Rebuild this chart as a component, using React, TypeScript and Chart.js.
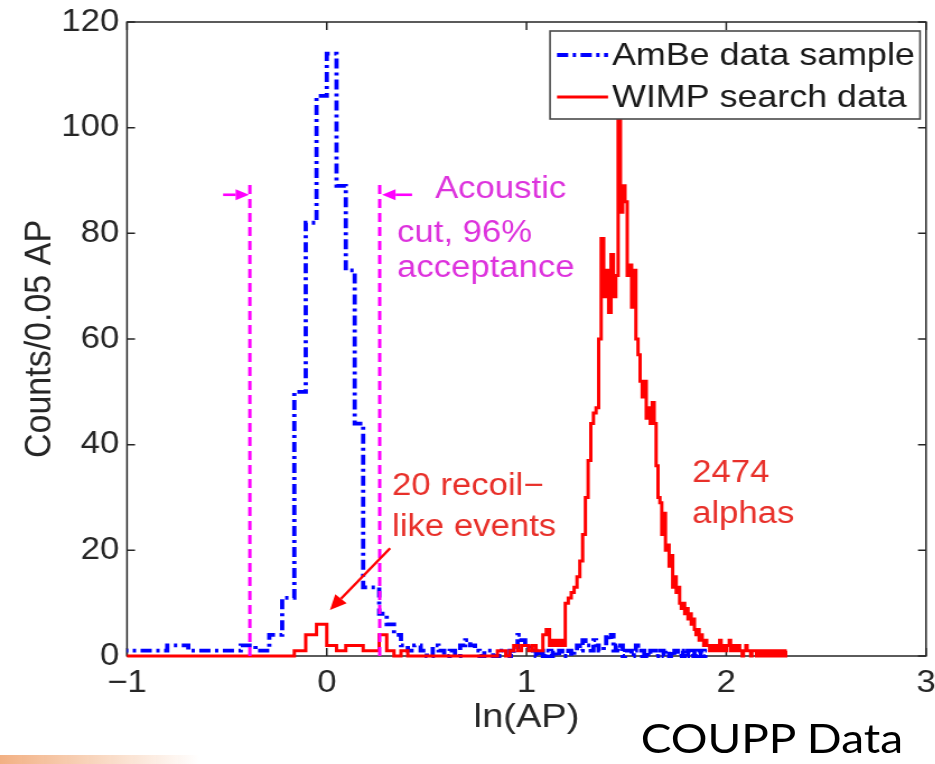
import React, { useEffect, useRef } from "react";
import { Chart, registerables } from "chart.js";

Chart.register(...registerables);

// The original figure is horizontally stretched; we draw at a narrower width and stretch with CSS.
const STRETCH = 1.12;
const CANVAS_W = 835;
const CANVAS_H = 764;
const FONT = '"Liberation Sans", Arial, Helvetica, sans-serif';

// Histograms are in AP bins of width 0.05, plotted against ln(AP)
const AP_BIN_WIDTH = 0.05;

// AmBe data sample: counts per bin, first bin starts at AP = 0.35
const ambeFirstBin = 0.35;
const ambeCounts = [
  1, 1, 2, 1, 1, 1, 2, 1, 4, 11,
  50, 82, 106, 114, 89, 73, 44, 13, 13, 8,
  6, 4, 2, 1, 2, 1, 0, 2, 1, 0,
  1, 0, 2, 3, 2, 1, 0, 1, 1, 0,
  0, 1, 1, 0, 1, 4, 3, 2, 1, 1,
  0, 1, 0, 1, 0, 1, 0, 1, 0, 0,
  1, 0, 1, 2, 1, 3, 2, 2, 1, 3,
  2, 1, 1, 2, 4, 3, 4, 1, 2, 1,
  2, 0, 1, 1, 1, 0, 1, 2, 1, 1,
  0, 1, 1, 0, 1, 1, 1, 0, 1, 1,
  1, 0, 1, 1, 0, 1, 0, 1, 1, 0,
  0, 1, 0, 1, 0, 1, 1, 0, 1, 0,
  0, 1, 0, 1, 1, 0, 1,
];

// WIMP search data: counts per bin, first bin starts at AP = 0.35
const wimpFirstBin = 0.35;
const wimpCounts = [
  0, 0, 0, 0, 0, 0, 0, 0, 0, 0,
  1, 4, 6, 2, 1, 2, 2, 1, 1, 4,
  1, 0, 1, 0, 0, 0, 0, 0, 0, 0,
  0, 0, 0, 0, 0, 0, 0, 0, 0, 0,
  1, 1, 0, 1, 2, 1, 2, 2, 1, 2,
  1, 1, 4, 5, 2, 3, 2, 3, 2, 10,
  11, 12, 13, 15, 18, 23, 30, 37, 44, 46,
  47, 60, 79, 68, 73, 65, 76, 68, 72, 102,
  84, 89, 86, 72, 74, 66, 73, 60, 57, 52,
  49, 52, 45, 47, 44, 48, 44, 36, 30, 29,
  23, 27, 20, 21, 17, 19, 13, 15, 12, 13,
  10, 9, 10, 8, 9, 7, 8, 6, 7, 5,
  4, 5, 3, 4, 3, 2, 3, 2, 2, 1,
  2, 1, 1, 2, 2, 1, 3, 2, 1, 2,
  1, 2, 2, 3, 1, 2, 1, 2, 1, 1,
  2, 1, 1, 0, 1, 1, 2, 1, 1, 1,
  0, 1, 1, 1, 1, 0, 1, 1, 0, 1,
  0, 1, 1, 0, 1, 0, 1, 1, 0, 0,
  1, 0, 1, 0, 1, 0, 0, 1, 0, 0,
  1, 0, 1,
];

const xTickValues = [-1, 0, 1, 2, 3];
const yTickValues = [0, 20, 40, 60, 80, 100, 120];

// acoustic cut positions in ln(AP) and the height of the marker lines
const cutLines = [-0.385, 0.265];
const cutTop = 90;

const legendLabels = ["AmBe data sample", "WIMP search data"];

const magentaNotes = [
  { text: "Acoustic", x: 0.542, y: 88.4 },
  { text: "cut, 96%", x: 0.352, y: 79.9 },
  { text: "acceptance", x: 0.352, y: 73.3 },
];
const redNotes = [
  { text: "20 recoil\u2212", x: 0.327, y: 32.0 },
  { text: "like events", x: 0.327, y: 24.4 },
  { text: "2474", x: 1.829, y: 34.6 },
  { text: "alphas", x: 1.829, y: 26.7 },
];

const BLUE = "#0000ff";
const RED = "#ff0000";
const MAGENTA = "#ff00ff";
const MAGENTA_TEXT = "#dd33dd";
const RED_TEXT = "#e8302a";
const AXIS = "#262626";
const BLUE_DASH = [10, 4, 3, 4];
const TICK_FONT = 31;
const TITLE_FONT = 34;

function histPoints(first: number, counts: number[]) {
  const pts = counts.map((c, i) => ({ x: Math.log(first + i * AP_BIN_WIDTH), y: c }));
  pts.push({
    x: Math.log(first + counts.length * AP_BIN_WIDTH),
    y: counts[counts.length - 1],
  });
  return pts;
}

function formatTick(v: number) {
  return v < 0 ? "\u2212" + Math.abs(v) : String(v);
}

function drawArrow(
  ctx: CanvasRenderingContext2D,
  x1: number, y1: number, x2: number, y2: number,
  color: string, lw: number, head: number
) {
  ctx.save();
  ctx.setLineDash([]);
  ctx.strokeStyle = color;
  ctx.fillStyle = color;
  ctx.lineWidth = lw;
  const ang = Math.atan2(y2 - y1, x2 - x1);
  const bx = x2 - head * Math.cos(ang);
  const by = y2 - head * Math.sin(ang);
  ctx.beginPath();
  ctx.moveTo(x1, y1);
  ctx.lineTo(bx, by);
  ctx.stroke();
  const w = head * 0.45;
  ctx.beginPath();
  ctx.moveTo(x2, y2);
  ctx.lineTo(bx + w * Math.sin(ang), by - w * Math.cos(ang));
  ctx.lineTo(bx - w * Math.sin(ang), by + w * Math.cos(ang));
  ctx.closePath();
  ctx.fill();
  ctx.restore();
}

const decorPlugin = {
  id: "decor",
  beforeDatasetsDraw(chart: any) {
    const { ctx, chartArea: a, scales } = chart;
    const xs = scales.x, ys = scales.y;
    ctx.save();
    ctx.strokeStyle = AXIS;
    ctx.lineWidth = 1.5;
    ctx.strokeRect(a.left, a.top, a.right - a.left, a.bottom - a.top);
    const tl = 8;
    ctx.beginPath();
    xTickValues.forEach((v) => {
      const px = xs.getPixelForValue(v);
      ctx.moveTo(px, a.bottom); ctx.lineTo(px, a.bottom - tl);
      ctx.moveTo(px, a.top); ctx.lineTo(px, a.top + tl);
    });
    yTickValues.forEach((v) => {
      const py = ys.getPixelForValue(v);
      ctx.moveTo(a.left, py); ctx.lineTo(a.left + tl / STRETCH, py);
      ctx.moveTo(a.right, py); ctx.lineTo(a.right - tl / STRETCH, py);
    });
    ctx.stroke();
    ctx.restore();
  },
  afterDatasetsDraw(chart: any) {
    const { ctx, chartArea: a, scales } = chart;
    const xs = scales.x, ys = scales.y;
    const X = (v: number) => xs.getPixelForValue(v);
    const Y = (v: number) => ys.getPixelForValue(v);
    ctx.save();
    ctx.font = `31px ${FONT}`;
    ctx.textBaseline = "middle";
    ctx.textAlign = "left";
    ctx.fillStyle = MAGENTA_TEXT;
    magentaNotes.forEach((n) => ctx.fillText(n.text, X(n.x), Y(n.y)));
    ctx.fillStyle = RED_TEXT;
    redNotes.forEach((n) => ctx.fillText(n.text, X(n.x), Y(n.y)));

    // acoustic cut arrows
    drawArrow(ctx, X(-0.519), Y(87.3), X(cutLines[0] - 0.004), Y(87.3), MAGENTA, 2.6, 12);
    drawArrow(ctx, X(0.427), Y(87.3), X(cutLines[1] + 0.012), Y(87.3), MAGENTA, 2.6, 12);
    // arrow to recoil-like events
    drawArrow(ctx, X(0.317), Y(20.4), X(0.016), Y(8.7), RED, 2.4, 15);

    // legend
    const boxW = 370 / STRETCH;
    const boxH = 88;
    const boxR = a.right - 6 / STRETCH;
    const boxL = boxR - boxW;
    const boxT = a.top + 9;
    ctx.fillStyle = "#ffffff";
    ctx.fillRect(boxL, boxT, boxW, boxH);
    ctx.strokeStyle = "#4a4a4a";
    ctx.lineWidth = 1.6;
    ctx.strokeRect(boxL, boxT, boxW, boxH);
    const rows = [
      { label: legendLabels[0], color: BLUE, dash: BLUE_DASH, lw: 3.8, y: boxT + 24 },
      { label: legendLabels[1], color: RED, dash: [] as number[], lw: 3, y: boxT + 66 },
    ];
    rows.forEach((r) => {
      ctx.save();
      ctx.strokeStyle = r.color;
      ctx.lineWidth = r.lw;
      ctx.setLineDash(r.dash);
      ctx.beginPath();
      ctx.moveTo(boxL + 7 / STRETCH, r.y);
      ctx.lineTo(boxL + 58 / STRETCH, r.y);
      ctx.stroke();
      ctx.restore();
      ctx.fillStyle = "#1a1a1a";
      ctx.font = `32px ${FONT}`;
      ctx.fillText(r.label, boxL + 62 / STRETCH, r.y + 1);
    });
    ctx.restore();
  },
};

function buildConfig(): any {
  const clip = { left: 0, right: 0, top: false, bottom: false };
  return {
    type: "line",
    data: {
      datasets: [
        {
          label: legendLabels[1],
          data: histPoints(wimpFirstBin, wimpCounts),
          borderColor: RED,
          borderWidth: 3,
          stepped: true,
          pointRadius: 0,
          fill: false,
          order: 1,
          clip,
        },
        {
          label: legendLabels[0],
          data: histPoints(ambeFirstBin, ambeCounts),
          borderColor: BLUE,
          borderWidth: 3.8,
          borderDash: BLUE_DASH,
          stepped: true,
          pointRadius: 0,
          fill: false,
          order: 2,
          clip,
        },
        ...cutLines.map((c) => ({
          label: "cut",
          data: [{ x: c, y: 0 }, { x: c, y: cutTop }],
          borderColor: MAGENTA,
          borderWidth: 3,
          borderDash: [9, 5],
          pointRadius: 0,
          fill: false,
          order: 0,
          clip,
        })),
      ],
    },
    options: {
      responsive: false,
      animation: false,
      events: [],
      layout: { padding: { left: 0, right: 8.2, top: 22, bottom: 0 } },
      plugins: {
        legend: { display: false },
        tooltip: { enabled: false },
        title: { display: false },
      },
      scales: {
        x: {
          type: "linear",
          min: -1,
          max: 3,
          afterFit: (s: any) => {
            s.height = 108;
            s.paddingLeft = 0;
            s.paddingRight = 0;
          },
          afterBuildTicks: (s: any) => {
            s.ticks = xTickValues.map((v) => ({ value: v }));
          },
          ticks: {
            font: { family: FONT, size: TICK_FONT },
            color: AXIS,
            padding: 8.4,
            maxRotation: 0,
            autoSkip: false,
            callback: (v: number) => formatTick(v),
          },
          grid: { display: false, drawTicks: false },
          border: { display: false },
          title: {
            display: true,
            text: "ln(AP)",
            font: { family: FONT, size: TITLE_FONT },
            color: AXIS,
            padding: { top: 0, bottom: 25.6 },
          },
        },
        y: {
          type: "linear",
          min: 0,
          max: 120,
          afterFit: (s: any) => {
            s.width = 113.4;
            s.paddingTop = 0;
            s.paddingBottom = 0;
          },
          afterBuildTicks: (s: any) => {
            s.ticks = yTickValues.map((v) => ({ value: v }));
          },
          ticks: {
            font: { family: FONT, size: TICK_FONT },
            color: AXIS,
            padding: 7,
            autoSkip: false,
            callback: (v: number) => formatTick(v),
          },
          grid: { display: false, drawTicks: false },
          border: { display: false },
          title: {
            display: true,
            text: "Counts/0.05 AP",
            font: { family: FONT, size: TITLE_FONT },
            color: AXIS,
            padding: { top: 15.3, bottom: 0 },
          },
        },
      },
    },
    plugins: [decorPlugin],
  };
}

export default function App() {
  const ref = useRef<HTMLCanvasElement>(null);
  useEffect(() => {
    if (!ref.current) return;
    const chart = new Chart(ref.current, buildConfig());
    return () => chart.destroy();
  }, []);
  return (
    <div
      style={{
        position: "fixed",
        left: 0,
        top: 0,
        width: 935,
        height: 764,
        overflow: "hidden",
        background: "#ffffff",
      }}
    >
      <div
        style={{
          position: "absolute",
          left: 0,
          top: 0,
          width: CANVAS_W,
          height: CANVAS_H,
          transform: `scaleX(${STRETCH})`,
          transformOrigin: "0 0",
        }}
      >
        <canvas ref={ref} width={CANVAS_W} height={CANVAS_H} style={{ display: "block" }} />
        <div
          style={{
            position: "absolute",
            left: 572,
            top: 717,
            fontFamily: "Lato, 'Open Sans', sans-serif",
            fontSize: 41,
            lineHeight: 1,
            color: "#000",
            whiteSpace: "nowrap",
          }}
        >
          COUPP Data
        </div>
      </div>
      <div
        style={{
          position: "absolute",
          left: 0,
          top: 755,
          width: 200,
          height: 9,
          background:
            "linear-gradient(to right, rgba(238,150,90,0.75), rgba(238,150,90,0))",
        }}
      />
    </div>
  );
}
